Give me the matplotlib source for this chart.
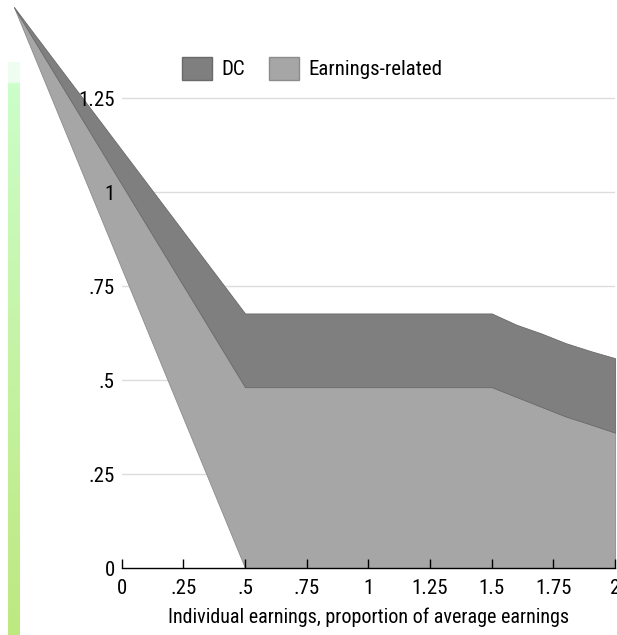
"""
Replacement rates by individual earnings: earnings-related and DC parts
"""
import numpy as np
import matplotlib
matplotlib.use("Agg")
import matplotlib.pyplot as plt
from matplotlib.patches import Patch

plt.rcParams["font.family"] = ["Liberation Sans Narrow", "Roboto Condensed",
                               "Archivo Narrow", "DejaVu Sans"]

# data (first point is where both bands meet, left of the axis)
earnings = [-0.437, 0.5, 1.5, 1.6, 1.7, 1.8, 1.9, 2.0]
earnings_related = [1.492, 0.481, 0.481, 0.455, 0.429, 0.403, 0.382, 0.360]
dc = [0.0, 0.196, 0.196, 0.192, 0.195, 0.195, 0.195, 0.198]
base = [1.492, 0.0, 0.0, 0.0, 0.0, 0.0, 0.0, 0.0]

x_ticks = [0, 0.25, 0.5, 0.75, 1, 1.25, 1.5, 1.75, 2]
x_labels = ["0", ".25", ".5", ".75", "1", "1.25", "1.5", "1.75", "2"]
y_ticks = [0, 0.25, 0.5, 0.75, 1, 1.25]
y_labels = ["0", ".25", ".5", ".75", "1", "1.25"]

W, H = 617, 635
fig = plt.figure(figsize=(W / 100, H / 100), dpi=100)

# green strip on the left edge
strip = fig.add_axes([8 / W, 0, 12 / W, (H - 62) / H])
n = 300
top = np.array([204, 255, 204]) / 255
bottom = np.array([190, 232, 128]) / 255
grad = np.linspace(0, 1, n)[:, None] * (bottom - top) + top
grad = grad[:, None, :]
pale = int(n * 22 / (H - 62))
grad[:pale] = np.array([238, 253, 240]) / 255
strip.imshow(grad, aspect="auto", interpolation="bilinear")
strip.axis("off")

ax = fig.add_axes([121.7 / W, 67 / H, 493.4 / W, 564 / H])
ax.set_xlim(0, 2)
ax.set_ylim(0, 1.5)
ax.set_axisbelow(False)

x = np.array(earnings)
er = np.array(earnings_related)
total = er + np.array(dc)

for yv in y_ticks[1:]:
    ax.axhline(yv, color="#dcdcdc", lw=1, zorder=0)

ax.fill_between(x, base, er, facecolor="#a6a6a6", edgecolor="#8c8c8c",
                lw=0.6, clip_on=False, zorder=1)
ax.fill_between(x, er, total, facecolor="#7f7f7f", edgecolor="#6a6a6a",
                lw=0.6, clip_on=False, zorder=1)

for side in ["left", "right", "top"]:
    ax.spines[side].set_visible(False)
ax.spines["bottom"].set_linewidth(1)
ax.spines["bottom"].set_zorder(3)

ax.set_xticks(x_ticks, x_labels)
ax.set_yticks(y_ticks, y_labels)
ax.tick_params(axis="x", direction="in", length=6.5, width=1, pad=8,
               labelsize=15, colors="black")
ax.tick_params(axis="y", length=0, pad=5, labelsize=15)
ax.set_xlabel("Individual earnings, proportion of average earnings",
              fontsize=14.5, labelpad=7)

handles = [Patch(facecolor="#7f7f7f", edgecolor="#6a6a6a", label="DC"),
           Patch(facecolor="#a6a6a6", edgecolor="#8c8c8c", label="Earnings-related")]
fig.legend(handles=handles, ncol=2, frameon=False, fontsize=15,
           loc="center left", bbox_to_anchor=(182 / W, 1 - 68.5 / H),
           borderpad=0, borderaxespad=0, handlelength=1.44, handleheight=1.3,
           handletextpad=0.46, columnspacing=1.15)

fig.savefig("out.png", dpi=100)
